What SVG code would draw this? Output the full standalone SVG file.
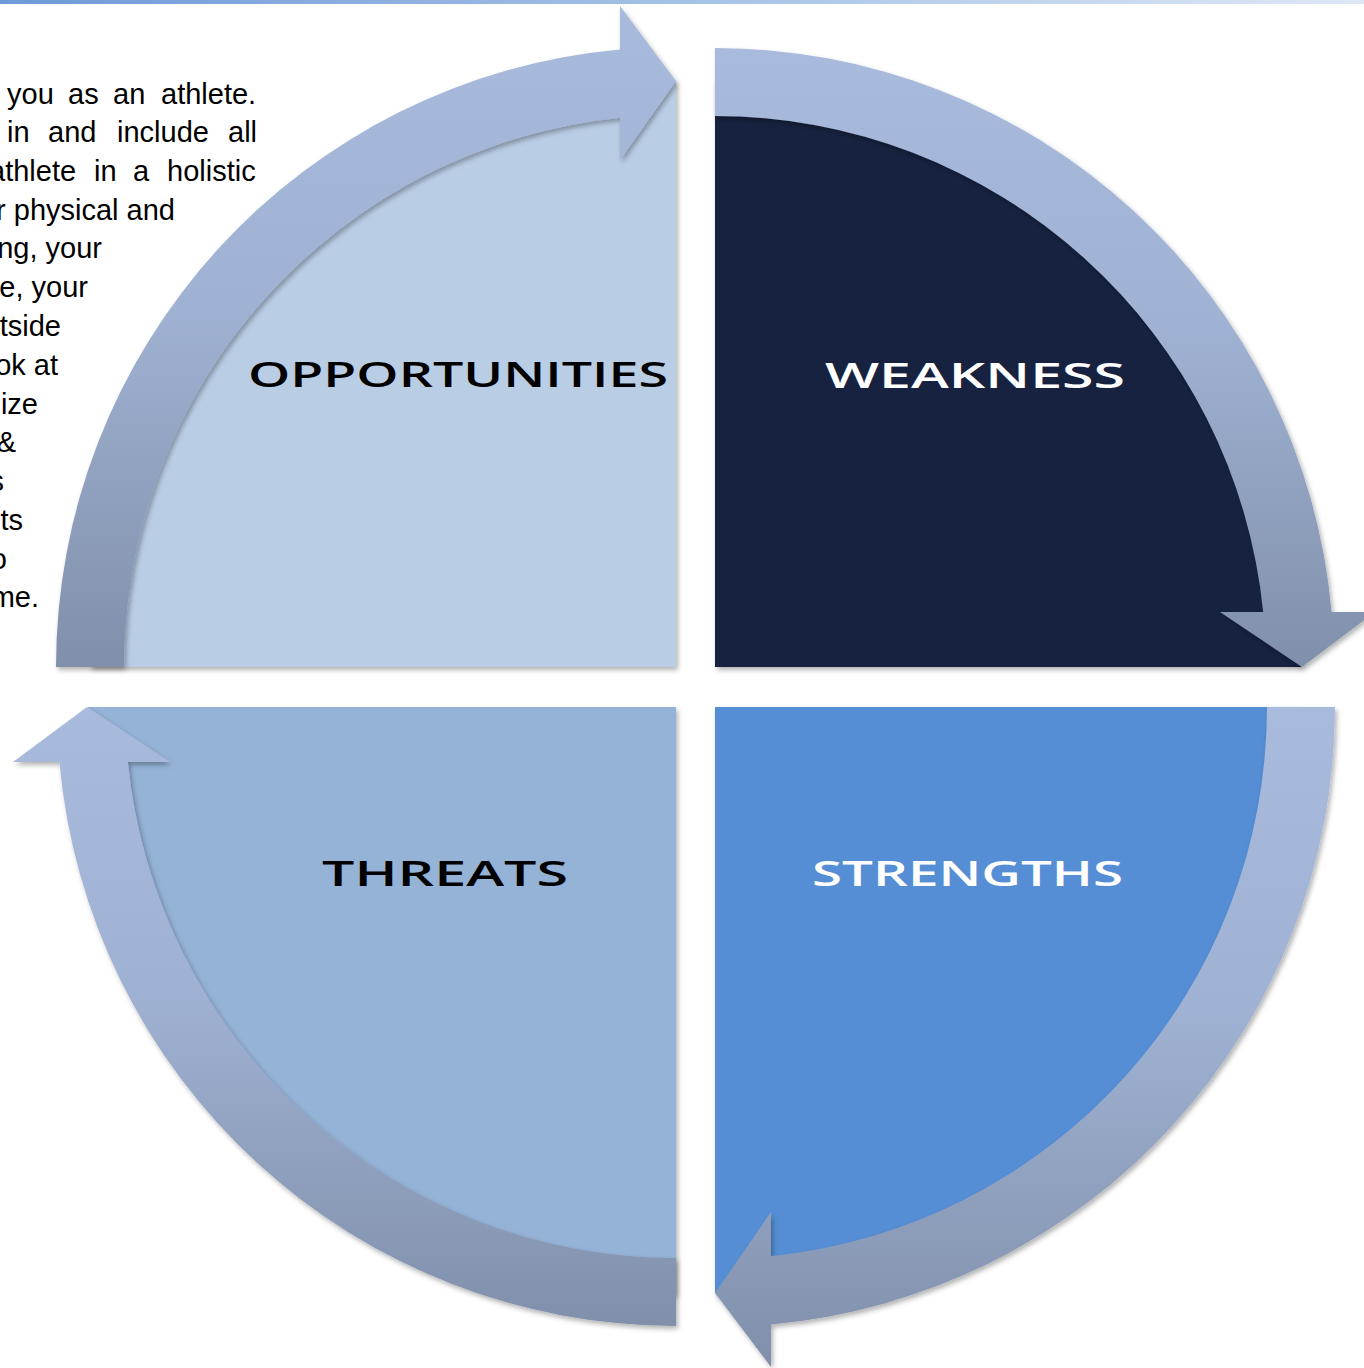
<svg xmlns="http://www.w3.org/2000/svg" width="1364" height="1368" viewBox="0 0 1364 1368">
  <defs>
    <linearGradient id="topbar" x1="0" y1="0" x2="1" y2="0">
      <stop offset="0" stop-color="#6D9AD8"/>
      <stop offset="1" stop-color="#DDE8F6"/>
    </linearGradient>
    <linearGradient id="arrowGrad" x1="0" y1="0" x2="0" y2="1">
      <stop offset="0" stop-color="#A9BBDD"/>
      <stop offset="0.45" stop-color="#A0B2D3"/>
      <stop offset="1" stop-color="#8090AB"/>
    </linearGradient>
    <filter id="shadow" x="-10%" y="-10%" width="120%" height="120%">
      <feDropShadow dx="2" dy="3" stdDeviation="2.5" flood-color="#000" flood-opacity="0.3"/>
    </filter>
    <style>
      .body { font-family: "Liberation Sans", Arial, sans-serif; font-size: 29px; fill: #000; }
      .label { font-family: "Open Sans", "DejaVu Sans", sans-serif; font-weight: 600; font-size: 35px; }
      .dark { fill: #000; }
      .light { fill: #FFF; }
      .quad { filter: url(#shadow); }
      .arrow { fill: url(#arrowGrad); filter: url(#shadow); }
    </style>
  </defs>

  <rect x="0" y="0" width="1364" height="4" fill="url(#topbar)"/>

  <g id="body-text" class="body">
    <text y="104"><tspan x="7">you</tspan><tspan x="68">as</tspan><tspan x="113">an</tspan><tspan x="161">athlete.</tspan></text>
    <text y="142"><tspan x="7">in</tspan><tspan x="48">and</tspan><tspan x="117">include</tspan><tspan x="228">all</tspan></text>
    <text y="181"><tspan x="-11">athlete</tspan><tspan x="94">in</tspan><tspan x="133">a</tspan><tspan x="167">holistic</tspan></text>
    <text y="220" x="175" text-anchor="end">r physical and</text>
    <text y="258" x="102" text-anchor="end">ng, your</text>
    <text y="297" x="88" text-anchor="end">e, your</text>
    <text y="336" x="61" text-anchor="end">tside</text>
    <text y="375" x="58" text-anchor="end">ok at</text>
    <text y="414" x="38" text-anchor="end">ize</text>
    <text y="452" x="16" text-anchor="end">&amp;</text>
    <text y="491" x="4" text-anchor="end">s</text>
    <text y="530" x="23" text-anchor="end">ts</text>
    <text y="569" x="7" text-anchor="end">o</text>
    <text y="607" x="39" text-anchor="end">me.</text>
  </g>

  <g id="opportunities">
    <path class="quad" d="M676,667 L90,667 A586,586 0 0 1 676,81 Z" fill="#B9CDE5"/>
    <text class="label dark" x="248" y="387" textLength="420" lengthAdjust="spacingAndGlyphs">OPPORTUNITIES</text>
  </g>
  <g id="weakness">
    <path class="quad" d="M715,667 L715,81 A586,586 0 0 1 1301,667 Z" fill="#12243F"/>
    <text class="label light" x="825" y="388" textLength="300" lengthAdjust="spacingAndGlyphs">WEAKNESS</text>
  </g>
  <g id="strengths">
    <path class="quad" d="M715,707 L1301,707 A586,586 0 0 1 715,1293 Z" fill="#558ED5"/>
    <text class="label light" x="812" y="886" textLength="311" lengthAdjust="spacingAndGlyphs">STRENGTHS</text>
  </g>
  <g id="threats">
    <path class="quad" d="M676,707 L676,1295 A588,588 0 0 1 88,707 Z" fill="#95B3D7"/>
    <text class="label dark" x="322" y="886" textLength="246" lengthAdjust="spacingAndGlyphs">THREATS</text>
  </g>

  <g id="connectors">
    <path class="arrow" d="M56,667 A620,620 0 0 1 620,49.5 L620,6 L676,81 L620,160 L620,117.8 A552,552 0 0 0 124,667 Z"/>
    <path class="arrow" d="M715,48 A619,619 0 0 1 1331.6,612 L1375,612 L1302,667 L1220,612 L1263.2,612 A551,551 0 0 0 715,116 Z"/>
    <path class="arrow" d="M1335,707 A620,620 0 0 1 771,1324.5 L771,1367 L715,1293 L771,1212 L771,1256.2 A552,552 0 0 0 1267,707 Z"/>
    <path class="arrow" d="M676,1326 A619,619 0 0 1 59.4,762 L13,762 L87,707 L170,762 L127.8,762 A551,551 0 0 0 676,1258 Z"/>
  </g>
</svg>
